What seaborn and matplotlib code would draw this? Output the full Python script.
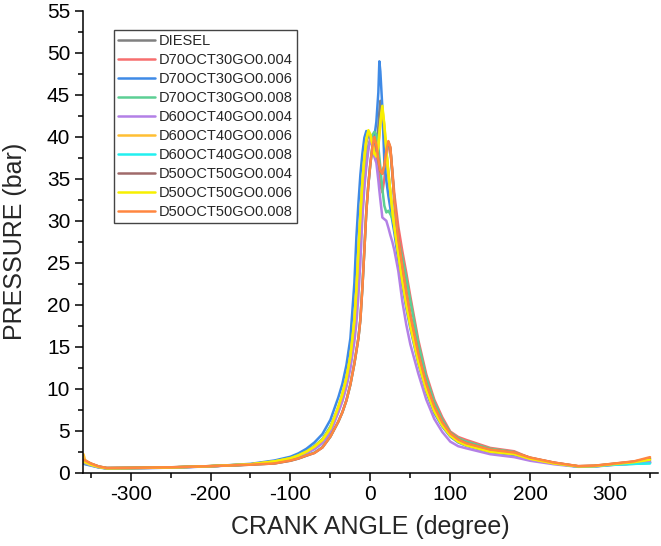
import matplotlib
matplotlib.use("Agg")
import matplotlib.pyplot as plt
from matplotlib.ticker import MultipleLocator
import seaborn as sns

# crank angle grid (degree), shared by every run
angle = [-359, -357, -350, -340, -330,
         -300, -250, -200, -150,
         -120, -100, -90, -80,
         -70, -60, -50, -40,
         -35, -30, -25, -20,
         -17.5, -15, -12.5, -10,
         -7.5, -5, -2.5, 0,
         2.5, 5, 7.5, 10, 11.25,
         12.5, 15, 17.5, 20,
         22.5, 25, 27.5, 30,
         35, 40, 45, 50,
         60, 70, 80, 90,
         100, 110, 120, 150, 180,
         200, 230, 260, 280,
         300, 330, 350]

# pressure (bar)
diesel = [1.3, 1.2, 0.95, 0.68, 0.52,
          0.55, 0.62, 0.77, 1.0,
          1.35, 1.75, 2.1, 2.55,
          3.15, 3.95, 5.4, 7.8,
          9.3, 11.2, 13.8, 18.0,
          21.5, 26.0, 30.3, 34.2,
          37.3, 39.4, 40.4, 40.0,
          39.2, 38.1, 37.9, 41.2, 43.0,
          44.3, 42.6, 40.5, 38.2,
          35.6, 33.4, 31.2, 29.4,
          26.2, 23.0, 20.3, 17.8,
          13.5, 10.0, 7.5, 5.8,
          4.55, 3.8, 3.4, 2.6, 2.3,
          1.7, 1.12, 0.74, 0.78,
          0.96, 1.2, 1.4]

d70_004 = [1.3, 1.2, 0.95, 0.68, 0.53,
           0.55, 0.62, 0.77, 0.98,
           1.3, 1.7, 2.0, 2.45,
           3.0, 3.8, 5.2, 7.3,
           8.7, 10.5, 13.0, 16.6,
           19.4, 22.8, 27.0, 31.0,
           34.6, 37.0, 38.8, 39.8,
           40.1, 39.3, 37.8, 36.0, 35.1,
           34.3, 33.4, 35.0, 37.6,
           39.0, 38.5, 36.0, 33.2,
           29.3, 26.4, 23.8, 21.0,
           15.8, 11.7, 8.7, 6.6,
           4.9, 4.25, 3.9, 2.95, 2.55,
           1.75, 1.2, 0.76, 0.8,
           0.95, 1.1, 1.2]

d70_006 = [1.1, 1.0, 0.85, 0.62, 0.5,
           0.52, 0.6, 0.76, 1.05,
           1.45, 1.9, 2.3, 2.85,
           3.6, 4.6, 6.3, 9.0,
           10.6, 12.8, 16.0, 22.6,
           28.0, 32.0, 35.5, 38.0,
           39.9, 40.7, 40.4, 39.6,
           39.5, 40.0, 41.8, 45.3, 49.0,
           47.8, 43.5, 37.0, 34.8,
           33.0, 31.5, 30.0, 28.6,
           25.3, 22.3, 19.6, 17.2,
           13.0, 9.6, 7.1, 5.5,
           4.3, 3.6, 3.2, 2.45, 2.1,
           1.6, 1.1, 0.72, 0.75,
           0.92, 1.1, 1.25]

d70_008 = [1.2, 1.1, 0.9, 0.65, 0.52,
           0.55, 0.62, 0.77, 0.98,
           1.35, 1.75, 2.1, 2.55,
           3.15, 4.0, 5.5, 7.6,
           9.0, 10.9, 13.4, 17.2,
           20.0, 23.5, 27.5, 31.5,
           34.8, 37.2, 38.8, 39.7,
           40.2, 40.6, 40.3, 38.8, 37.6,
           36.4, 33.8, 31.8, 31.0,
           31.2, 30.8, 30.3, 29.6,
           27.8, 25.6, 23.2, 20.5,
           15.4, 11.3, 8.4, 6.3,
           4.8, 4.1, 3.7, 2.85, 2.45,
           1.72, 1.15, 0.72, 0.76,
           0.93, 1.05, 1.15]

d60_004 = [1.25, 1.15, 0.9, 0.65, 0.52,
           0.54, 0.6, 0.75, 0.98,
           1.25, 1.6, 1.9, 2.3,
           2.8, 3.5, 4.8, 7.2,
           8.5, 10.2, 12.4, 15.6,
           17.8, 21.0, 25.0, 30.5,
           34.0, 36.5, 38.5, 39.7,
           39.0, 37.6, 36.9, 34.8, 33.6,
           32.5, 30.4, 30.2, 30.0,
           29.2, 28.3, 27.5, 26.5,
           24.0, 20.4, 17.6, 15.3,
           11.8, 8.7, 6.4, 4.85,
           3.7, 3.15, 2.9, 2.2, 1.85,
           1.42, 1.0, 0.7, 0.72,
           0.9, 1.1, 1.25]

d60_006 = [2.2, 1.5, 1.1, 0.72, 0.55,
           0.57, 0.63, 0.78, 0.99,
           1.33, 1.72, 2.05, 2.5,
           3.1, 3.9, 5.3, 7.8,
           9.3, 11.2, 13.8, 18.0,
           21.6, 26.2, 30.5, 34.4,
           37.4, 39.6, 40.6, 40.2,
           39.1, 38.0, 37.6, 38.8, 40.1,
           41.5, 43.4, 41.3, 38.4,
           35.8, 33.5, 31.3, 29.4,
           26.1, 23.0, 20.1, 17.6,
           13.3, 9.9, 7.4, 5.7,
           4.45, 3.72, 3.3, 2.55, 2.25,
           1.68, 1.12, 0.76, 0.8,
           1.0, 1.3, 1.6]

d60_008 = [1.45, 1.35, 1.05, 0.72, 0.55,
           0.57, 0.63, 0.78, 0.96,
           1.12, 1.45, 1.7, 2.05,
           2.4, 3.05, 4.3, 6.1,
           7.2, 8.6, 10.5, 13.0,
           14.5, 16.0, 18.3, 22.1,
           26.6, 31.2, 34.3, 36.8,
           38.7, 39.8, 38.9, 37.2, 36.6,
           36.0, 35.6, 36.5, 38.2,
           39.3, 38.6, 35.6, 32.4,
           27.7, 24.4, 21.4, 18.7,
           14.2, 10.6, 7.9, 6.0,
           4.65, 3.9, 3.45, 2.7, 2.35,
           1.75, 1.15, 0.72, 0.76,
           0.92, 1.05, 1.1]

d50_004 = [1.5, 1.4, 1.08, 0.74, 0.56,
           0.58, 0.64, 0.78, 0.95,
           1.1, 1.42, 1.68, 2.02,
           2.35, 3.0, 4.3, 6.1,
           7.2, 8.6, 10.5, 13.0,
           14.5, 16.0, 18.2, 22.0,
           26.5, 31.2, 34.3, 36.8,
           38.8, 39.9, 38.9, 37.2, 36.5,
           35.9, 35.6, 36.6, 38.3,
           39.4, 38.7, 35.7, 32.5,
           27.8, 24.5, 21.5, 18.8,
           14.2, 10.6, 7.9, 6.0,
           4.7, 3.95, 3.5, 2.72, 2.38,
           1.78, 1.18, 0.77, 0.82,
           1.02, 1.32, 1.7]

d50_006 = [1.35, 1.25, 0.95, 0.68, 0.52,
           0.55, 0.62, 0.78, 1.0,
           1.35, 1.7, 2.05, 2.5,
           3.1, 3.9, 5.3, 7.9,
           9.4, 11.3, 13.9, 18.2,
           21.8, 26.5, 30.8, 34.6,
           37.6, 39.8, 40.8, 40.3,
           39.2, 38.0, 37.7, 39.0, 40.4,
           41.8, 43.7, 41.5, 38.5,
           35.8, 33.5, 31.2, 29.3,
           26.0, 22.8, 20.0, 17.5,
           13.2, 9.8, 7.3, 5.6,
           4.4, 3.68, 3.25, 2.5, 2.2,
           1.65, 1.1, 0.75, 0.78,
           0.98, 1.25, 1.55]

d50_008 = [1.55, 1.45, 1.1, 0.75, 0.56,
           0.58, 0.64, 0.78, 0.95,
           1.1, 1.45, 1.7, 2.05,
           2.35, 3.0, 4.3, 6.1,
           7.2, 8.6, 10.5, 13.0,
           14.5, 16.0, 18.2, 22.0,
           26.5, 31.2, 34.3, 36.8,
           38.8, 40.0, 39.0, 37.3, 36.6,
           36.0, 35.6, 36.6, 38.3,
           39.5, 38.8, 35.8, 32.5,
           27.8, 24.6, 21.5, 18.8,
           14.2, 10.6, 7.9, 6.0,
           4.7, 3.95, 3.5, 2.75, 2.4,
           1.8, 1.2, 0.78, 0.83,
           1.03, 1.35, 1.85]

labels = ["DIESEL", "D70OCT30GO0.004", "D70OCT30GO0.006", "D70OCT30GO0.008",
          "D60OCT40GO0.004", "D60OCT40GO0.006", "D60OCT40GO0.008",
          "D50OCT50GO0.004", "D50OCT50GO0.006", "D50OCT50GO0.008"]
series = [diesel, d70_004, d70_006, d70_008, d60_004, d60_006, d60_008,
          d50_004, d50_006, d50_008]
colors = ["#808080", "#f76e6e", "#3f8ae6", "#5ccf94", "#b380e6",
          "#ffbf33", "#22f0f0", "#a06a6a", "#f7f000", "#ff8640"]

sns.set_theme(style="ticks")
plt.rcParams['font.family'] = ['Liberation Sans', 'DejaVu Sans']
plt.rcParams['axes.unicode_minus'] = False

fig = plt.figure(figsize=(6.61, 5.46), dpi=100)
ax = fig.add_axes([0.1251, 0.1343, 0.8704, 0.8456])

for name, vals, col in zip(labels, series, colors):
    sns.lineplot(x=angle, y=vals, color=col, lw=1.8, label=name, ax=ax,
                 sort=False, estimator=None)

ax.set_xlim(-360, 360)
ax.set_ylim(0, 55)
ax.xaxis.set_major_locator(MultipleLocator(100))
ax.xaxis.set_minor_locator(MultipleLocator(50))
ax.yaxis.set_major_locator(MultipleLocator(5))
ax.yaxis.set_minor_locator(MultipleLocator(2.5))
ax.tick_params(which='major', direction='out', length=6, width=1.1,
               labelsize=15, pad=3, colors='black')
ax.tick_params(which='minor', direction='out', length=3.5, width=1.1,
               colors='black')
sns.despine(ax=ax)
for side in ['left', 'bottom']:
    ax.spines[side].set_linewidth(1.1)
    ax.spines[side].set_color('black')

ax.set_xlabel('CRANK ANGLE (degree)', fontsize=18, labelpad=8)
ax.set_ylabel('PRESSURE (bar)', fontsize=18, labelpad=14)

leg = ax.legend(loc='upper left', bbox_to_anchor=(0.0544, 0.9589),
                borderaxespad=0, fontsize=10.5, handlelength=2.5,
                handletextpad=0.25, labelspacing=0.34, borderpad=0.3,
                fancybox=False, framealpha=1, edgecolor='#444444')
leg.get_frame().set_linewidth(1.0)

fig.savefig('out.png', dpi=100)
